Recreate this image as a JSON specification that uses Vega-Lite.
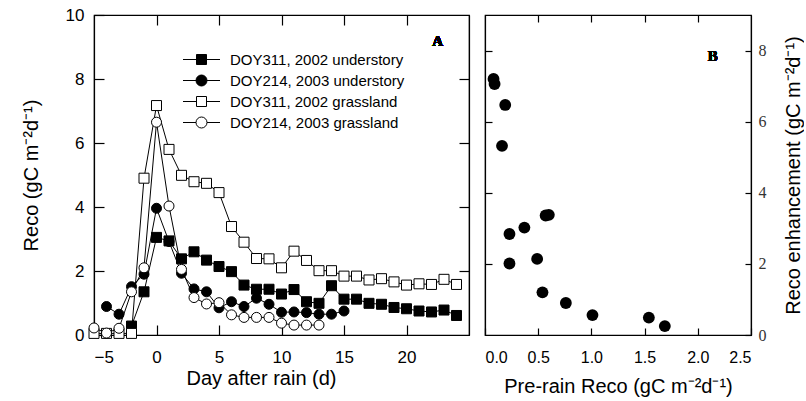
{
  "$schema": "https://vega.github.io/schema/vega-lite/v6.json",
  "padding": {"left": 20, "top": 5, "right": 0, "bottom": 0},
  "spacing": 12,
  "background": "white",
  "config": {
    "font": "Liberation Sans",
    "view": {"stroke": "black", "strokeWidth": 1.2},
    "axis": {
      "domainColor": "black", "domainWidth": 1.2,
      "tickColor": "black", "tickWidth": 1.2, "tickSize": -10,
      "labelColor": "black", "labelFontSize": 17, "labelFont": "Liberation Sans",
      "titleFont": "Liberation Sans", "titleFontSize": 20, "titleFontWeight": "normal",
      "titleColor": "black", "grid": false, "labelPadding": 20
    }
  },
  "datasets": {
    "a": [
      {"series": "DOY311, 2002 understory", "day": -2, "reco": 0.28},
      {"series": "DOY311, 2002 understory", "day": -1, "reco": 1.35},
      {"series": "DOY311, 2002 understory", "day": 0, "reco": 3.05},
      {"series": "DOY311, 2002 understory", "day": 1, "reco": 2.94},
      {"series": "DOY311, 2002 understory", "day": 2, "reco": 2.38},
      {"series": "DOY311, 2002 understory", "day": 3, "reco": 2.6},
      {"series": "DOY311, 2002 understory", "day": 4, "reco": 2.34},
      {"series": "DOY311, 2002 understory", "day": 5, "reco": 2.14},
      {"series": "DOY311, 2002 understory", "day": 6, "reco": 1.98},
      {"series": "DOY311, 2002 understory", "day": 7, "reco": 1.56},
      {"series": "DOY311, 2002 understory", "day": 8, "reco": 1.43},
      {"series": "DOY311, 2002 understory", "day": 9, "reco": 1.43},
      {"series": "DOY311, 2002 understory", "day": 10, "reco": 1.28},
      {"series": "DOY311, 2002 understory", "day": 11, "reco": 1.42},
      {"series": "DOY311, 2002 understory", "day": 12, "reco": 1.04},
      {"series": "DOY311, 2002 understory", "day": 13, "reco": 0.99},
      {"series": "DOY311, 2002 understory", "day": 14, "reco": 1.54},
      {"series": "DOY311, 2002 understory", "day": 15, "reco": 1.12},
      {"series": "DOY311, 2002 understory", "day": 16, "reco": 1.12},
      {"series": "DOY311, 2002 understory", "day": 17, "reco": 0.99},
      {"series": "DOY311, 2002 understory", "day": 18, "reco": 0.96},
      {"series": "DOY311, 2002 understory", "day": 19, "reco": 0.86},
      {"series": "DOY311, 2002 understory", "day": 20, "reco": 0.82},
      {"series": "DOY311, 2002 understory", "day": 21, "reco": 0.75},
      {"series": "DOY311, 2002 understory", "day": 22, "reco": 0.72},
      {"series": "DOY311, 2002 understory", "day": 23, "reco": 0.78},
      {"series": "DOY311, 2002 understory", "day": 24, "reco": 0.61},
      {"series": "DOY214, 2003 understory", "day": -4, "reco": 0.89},
      {"series": "DOY214, 2003 understory", "day": -3, "reco": 0.65},
      {"series": "DOY214, 2003 understory", "day": -2, "reco": 1.51},
      {"series": "DOY214, 2003 understory", "day": -1, "reco": 1.9},
      {"series": "DOY214, 2003 understory", "day": 0, "reco": 3.96},
      {"series": "DOY214, 2003 understory", "day": 1, "reco": 2.92},
      {"series": "DOY214, 2003 understory", "day": 2, "reco": 1.93},
      {"series": "DOY214, 2003 understory", "day": 3, "reco": 1.44},
      {"series": "DOY214, 2003 understory", "day": 4, "reco": 1.35},
      {"series": "DOY214, 2003 understory", "day": 5, "reco": 0.85},
      {"series": "DOY214, 2003 understory", "day": 6, "reco": 1.04},
      {"series": "DOY214, 2003 understory", "day": 7, "reco": 0.89},
      {"series": "DOY214, 2003 understory", "day": 8, "reco": 1.15},
      {"series": "DOY214, 2003 understory", "day": 9, "reco": 0.96},
      {"series": "DOY214, 2003 understory", "day": 10, "reco": 0.71},
      {"series": "DOY214, 2003 understory", "day": 11, "reco": 0.72},
      {"series": "DOY214, 2003 understory", "day": 12, "reco": 0.7},
      {"series": "DOY214, 2003 understory", "day": 13, "reco": 0.65},
      {"series": "DOY214, 2003 understory", "day": 14, "reco": 0.65},
      {"series": "DOY214, 2003 understory", "day": 15, "reco": 0.75},
      {"series": "DOY311, 2002 grassland", "day": -5, "reco": 0.05},
      {"series": "DOY311, 2002 grassland", "day": -4, "reco": 0.05},
      {"series": "DOY311, 2002 grassland", "day": -3, "reco": 0.05},
      {"series": "DOY311, 2002 grassland", "day": -2, "reco": 0.05},
      {"series": "DOY311, 2002 grassland", "day": -1, "reco": 4.9},
      {"series": "DOY311, 2002 grassland", "day": 0, "reco": 7.17},
      {"series": "DOY311, 2002 grassland", "day": 1, "reco": 5.8},
      {"series": "DOY311, 2002 grassland", "day": 2, "reco": 4.99},
      {"series": "DOY311, 2002 grassland", "day": 3, "reco": 4.79},
      {"series": "DOY311, 2002 grassland", "day": 4, "reco": 4.74},
      {"series": "DOY311, 2002 grassland", "day": 5, "reco": 4.45},
      {"series": "DOY311, 2002 grassland", "day": 6, "reco": 3.39},
      {"series": "DOY311, 2002 grassland", "day": 7, "reco": 2.9},
      {"series": "DOY311, 2002 grassland", "day": 8, "reco": 2.39},
      {"series": "DOY311, 2002 grassland", "day": 9, "reco": 2.38},
      {"series": "DOY311, 2002 grassland", "day": 10, "reco": 2.1},
      {"series": "DOY311, 2002 grassland", "day": 11, "reco": 2.62},
      {"series": "DOY311, 2002 grassland", "day": 12, "reco": 2.33},
      {"series": "DOY311, 2002 grassland", "day": 13, "reco": 2.01},
      {"series": "DOY311, 2002 grassland", "day": 14, "reco": 2.01},
      {"series": "DOY311, 2002 grassland", "day": 15, "reco": 1.84},
      {"series": "DOY311, 2002 grassland", "day": 16, "reco": 1.84},
      {"series": "DOY311, 2002 grassland", "day": 17, "reco": 1.72},
      {"series": "DOY311, 2002 grassland", "day": 18, "reco": 1.76},
      {"series": "DOY311, 2002 grassland", "day": 19, "reco": 1.66},
      {"series": "DOY311, 2002 grassland", "day": 20, "reco": 1.56},
      {"series": "DOY311, 2002 grassland", "day": 21, "reco": 1.6},
      {"series": "DOY311, 2002 grassland", "day": 22, "reco": 1.58},
      {"series": "DOY311, 2002 grassland", "day": 23, "reco": 1.74},
      {"series": "DOY311, 2002 grassland", "day": 24, "reco": 1.58},
      {"series": "DOY214, 2003 grassland", "day": -5, "reco": 0.22},
      {"series": "DOY214, 2003 grassland", "day": -4, "reco": 0.06},
      {"series": "DOY214, 2003 grassland", "day": -3, "reco": 0.21},
      {"series": "DOY214, 2003 grassland", "day": -2, "reco": 1.35},
      {"series": "DOY214, 2003 grassland", "day": -1, "reco": 2.1},
      {"series": "DOY214, 2003 grassland", "day": 0, "reco": 6.65},
      {"series": "DOY214, 2003 grassland", "day": 1, "reco": 4.03},
      {"series": "DOY214, 2003 grassland", "day": 2, "reco": 2.05},
      {"series": "DOY214, 2003 grassland", "day": 3, "reco": 1.17},
      {"series": "DOY214, 2003 grassland", "day": 4, "reco": 0.97},
      {"series": "DOY214, 2003 grassland", "day": 5, "reco": 1.01},
      {"series": "DOY214, 2003 grassland", "day": 6, "reco": 0.63},
      {"series": "DOY214, 2003 grassland", "day": 7, "reco": 0.55},
      {"series": "DOY214, 2003 grassland", "day": 8, "reco": 0.55},
      {"series": "DOY214, 2003 grassland", "day": 9, "reco": 0.55},
      {"series": "DOY214, 2003 grassland", "day": 10, "reco": 0.37},
      {"series": "DOY214, 2003 grassland", "day": 11, "reco": 0.31},
      {"series": "DOY214, 2003 grassland", "day": 12, "reco": 0.31},
      {"series": "DOY214, 2003 grassland", "day": 13, "reco": 0.31}
    ],
    "b": [
      {"pre": 0.08, "enh": 7.2},
      {"pre": 0.09, "enh": 7.06},
      {"pre": 0.19, "enh": 6.47},
      {"pre": 0.16, "enh": 5.32},
      {"pre": 0.57, "enh": 3.36},
      {"pre": 0.6, "enh": 3.38},
      {"pre": 0.37, "enh": 3.02},
      {"pre": 0.23, "enh": 2.84},
      {"pre": 0.23, "enh": 2.01},
      {"pre": 0.49, "enh": 2.14},
      {"pre": 0.54, "enh": 1.2},
      {"pre": 0.76, "enh": 0.9},
      {"pre": 1.01, "enh": 0.56},
      {"pre": 1.54, "enh": 0.49},
      {"pre": 1.69, "enh": 0.25}
    ]
  },
  "hconcat": [
    {
      "width": 375,
      "height": 320,
      "data": {"name": "a"},
      "layer": [
        {
          "mark": {"type": "line", "stroke": "black", "strokeWidth": 1},
          "encoding": {
            "x": {"field": "day", "type": "quantitative",
                  "scale": {"domain": [-5, 25], "nice": false, "zero": false},
                  "axis": {"orient": "bottom", "values": [-5, 0, 5, 10, 15, 20], "labelPadding": 24, "title": "Day after rain (d)", "titleX": 167, "titlePadding": 3}},
            "y": {"field": "reco", "type": "quantitative",
                  "scale": {"domain": [0, 10], "nice": false},
                  "axis": {"orient": "left", "values": [0, 2, 4, 6, 8, 10], "title": "Reco (gC m⁻²d⁻¹)", "titlePadding": 24}},
            "detail": {"field": "series"}
          }
        },
        {
          "mark": {"type": "point", "stroke": "black", "strokeWidth": 1, "opacity": 1, "size": 100},
          "encoding": {
            "x": {"field": "day", "type": "quantitative",
                  "axis": {"orient": "top", "values": [0, 5, 10, 15, 20], "labels": false, "title": null}},
            "y": {"field": "reco", "type": "quantitative",
                  "axis": {"orient": "right", "values": [2, 4, 6, 8], "labels": false, "title": null}},
            "shape": {"field": "series", "type": "nominal", "legend": null,
                      "scale": {"domain": ["DOY311, 2002 understory", "DOY214, 2003 understory", "DOY311, 2002 grassland", "DOY214, 2003 grassland"],
                                "range": ["square", "circle", "square", "circle"]}},
            "fill": {"field": "series", "type": "nominal", "legend": null,
                     "scale": {"domain": ["DOY311, 2002 understory", "DOY214, 2003 understory", "DOY311, 2002 grassland", "DOY214, 2003 grassland"],
                               "range": ["black", "black", "white", "white"]}}
          }
        },
        {
          "transform": [{"filter": "datum.day > 1000"}],
          "mark": {"type": "point", "stroke": "black", "strokeWidth": 1, "opacity": 1, "filled": true},
          "encoding": {
            "x": {"field": "day", "type": "quantitative", "axis": null},
            "y": {"field": "reco", "type": "quantitative", "axis": null},
            "shape": {"field": "series", "type": "nominal",
                      "scale": {"domain": ["DOY311, 2002 understory", "DOY214, 2003 understory", "DOY311, 2002 grassland", "DOY214, 2003 grassland"],
                                "range": ["M-3.7,0H-1M1,0H3.7M-1,-1H1V1H-1Z",
                                          "M-3.7,0H-1.1M1.1,0H3.7M-1.1,0A1.1,1.1,0,1,1,1.1,0A1.1,1.1,0,1,1,-1.1,0Z",
                                          "M-3.7,0H-1M1,0H3.7M-1,-1H1V1H-1Z",
                                          "M-3.7,0H-1.1M1.1,0H3.7M-1.1,0A1.1,1.1,0,1,1,1.1,0A1.1,1.1,0,1,1,-1.1,0Z"]},
                      "legend": {"orient": "none", "legendX": 100, "legendY": 37, "title": null,
                                 "symbolSize": 100, "symbolStrokeColor": "black", "symbolStrokeWidth": 1,
                                 "labelFontSize": 15, "labelColor": "black", "labelFont": "Liberation Sans", "labelLimit": 400,
                                 "labelOffset": 21, "rowPadding": 5, "padding": 0, "symbolOpacity": 1,
                                 "encode": {"symbols": {"update": {"stroke": {"value": "black"}, "strokeWidth": {"value": 1}, "opacity": {"value": 1}}}}}},
            "fill": {"field": "series", "type": "nominal",
                     "scale": {"domain": ["DOY311, 2002 understory", "DOY214, 2003 understory", "DOY311, 2002 grassland", "DOY214, 2003 grassland"],
                               "range": ["black", "black", "white", "white"]},
                     "legend": {"orient": "none", "legendX": 100, "legendY": 37, "title": null,
                                 "symbolSize": 100, "symbolStrokeColor": "black", "symbolStrokeWidth": 1,
                                 "labelFontSize": 15, "labelColor": "black", "labelFont": "Liberation Sans", "labelLimit": 400,
                                 "labelOffset": 21, "rowPadding": 5, "padding": 0, "symbolOpacity": 1,
                                 "encode": {"symbols": {"update": {"stroke": {"value": "black"}, "strokeWidth": {"value": 1}, "opacity": {"value": 1}}}}}}
          }
        },
        {
          "mark": {"type": "text", "text": "A", "font": "Liberation Serif", "fontWeight": "bold", "fontSize": 15, "color": "black"},
          "encoding": {
            "x": {"datum": 22.5, "type": "quantitative", "axis": null},
            "y": {"datum": 9.2, "type": "quantitative", "axis": null}
          }
        }
      ],
      "resolve": {"axis": {"x": "independent", "y": "independent"},
                  "scale": {"shape": "independent", "fill": "independent"}}
    },
    {
      "width": 266,
      "height": 320,
      "data": {"name": "b"},
      "layer": [
        {
          "mark": {"type": "point", "shape": "circle", "filled": true, "color": "black", "opacity": 1, "size": 140},
          "encoding": {
            "x": {"field": "pre", "type": "quantitative",
                  "scale": {"domain": [0, 2.5], "nice": false},
                  "axis": {"orient": "bottom", "values": [0, 0.5, 1, 1.5, 2, 2.5], "format": ".1f", "tickSize": -7, "labelPadding": 21,
                           "title": "Pre-rain Reco (gC m⁻²d⁻¹)", "titlePadding": 11, "labelFontSize": 16}},
            "y": {"field": "enh", "type": "quantitative",
                  "scale": {"domain": [0, 9], "nice": false},
                  "axis": {"orient": "right", "values": [0, 2, 4, 6, 8], "tickSize": -6, "labelPadding": 13,
                           "labelFont": "Liberation Serif", "labelColor": "#333", "labelFontSize": 16,
                           "title": "Reco enhancement (gC m⁻²d⁻¹)", "titleAngle": 270, "titleBaseline": "top", "titlePadding": 17}}
          }
        },
        {
          "mark": {"type": "point", "opacity": 0},
          "encoding": {
            "x": {"field": "pre", "type": "quantitative",
                  "axis": {"orient": "top", "values": [0.5, 1, 1.5, 2], "labels": false, "title": null, "tickSize": -7}},
            "y": {"field": "enh", "type": "quantitative",
                  "axis": {"orient": "left", "values": [2, 4, 6, 8], "labels": false, "title": null, "tickSize": -7}}
          }
        },
        {
          "mark": {"type": "text", "text": "B", "font": "Liberation Serif", "fontWeight": "bold", "fontSize": 15, "color": "black"},
          "encoding": {
            "x": {"datum": 2.14, "type": "quantitative", "axis": null},
            "y": {"datum": 7.85, "type": "quantitative", "axis": null}
          }
        }
      ],
      "resolve": {"axis": {"x": "independent", "y": "independent"}}
    }
  ]
}
